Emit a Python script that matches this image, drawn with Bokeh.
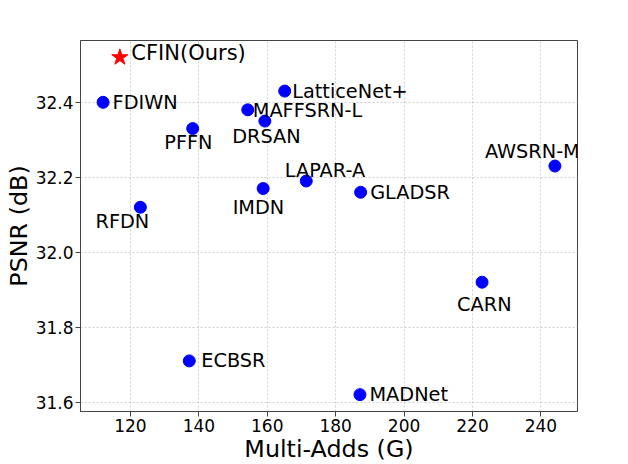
from bokeh.plotting import figure
from bokeh.models import ColumnDataSource, Range1d, FixedTicker, PrintfTickFormatter
from bokeh.core.properties import value, field
from bokeh.embed import file_html
from bokeh.resources import INLINE

# ---- data ----
names = ["CFIN(Ours)", "FDIWN", "PFFN", "MAFFSRN-L", "DRSAN", "LatticeNet+",
         "LAPAR-A", "IMDN", "RFDN", "GLADSR", "AWSRN-M", "CARN", "ECBSR", "MADNet"]
multi_adds = [116.9, 112.0, 138.2, 154.3, 159.3, 165.1,
              171.4, 158.8, 122.9, 187.3, 244.1, 222.8, 137.2, 187.1]
psnr = [32.52, 32.40, 32.33, 32.38, 32.35, 32.43,
        32.19, 32.17, 32.12, 32.16, 32.23, 31.92, 31.71, 31.62]
x_ticks = [120, 140, 160, 180, 200, 220, 240]
y_ticks = [31.6, 31.8, 32.0, 32.2, 32.4]
ours = "CFIN(Ours)"

# label placement: (align, dx px, dy px; dy positive = down)
label_layout = {
    "CFIN(Ours)": ("left", 11.5, -4),
    "FDIWN": ("left", 9.5, 0),
    "PFFN": ("center", -4.3, 14),
    "MAFFSRN-L": ("left", 5, 1),
    "DRSAN": ("center", 1.5, 15),
    "LatticeNet+": ("left", 7.5, 0),
    "LAPAR-A": ("center", 18.7, -11),
    "IMDN": ("center", -4.7, 19),
    "RFDN": ("center", -18, 14),
    "GLADSR": ("left", 9.5, 0),
    "AWSRN-M": ("center", -22.6, -15),
    "CARN": ("center", 2.3, 22.5),
    "ECBSR": ("left", 12, 0),
    "MADNet": ("left", 9.5, 0),
}

FONT = "DejaVu Sans"

def padded(vals, frac=0.05):
    lo, hi = min(vals), max(vals)
    m = (hi - lo) * frac
    return lo - m, hi + m

x0, x1 = padded(multi_adds)
y0, y1 = padded(psnr)

p = figure(frame_width=497, frame_height=371, output_backend="svg", toolbar_location=None,
           x_range=Range1d(x0, x1), y_range=Range1d(y0, y1),
           min_border_left=80, min_border_top=40,
           min_border_right=51, min_border_bottom=53)
p.background_fill_color = "white"
p.border_fill_color = "white"
p.outline_line_color = "#444444"
p.outline_line_width = 1

for ax in (p.xaxis[0], p.yaxis[0]):
    ax.axis_line_color = "#444444"
    ax.major_tick_line_color = "#444444"
    ax.major_tick_out = 5
    ax.major_tick_in = 0
    ax.minor_tick_out = 0
    ax.minor_tick_in = 0
    ax.major_label_text_font = FONT
    ax.major_label_text_font_size = "17px"
    ax.major_label_text_color = "black"
    ax.axis_label_text_font = FONT
    ax.axis_label_text_font_size = "23.8px"
    ax.axis_label_text_font_style = "normal"
    ax.axis_label_text_color = "black"

p.xaxis.ticker = FixedTicker(ticks=x_ticks)
p.yaxis.ticker = FixedTicker(ticks=y_ticks)
p.yaxis.formatter = PrintfTickFormatter(format="%.1f")
p.xaxis.axis_label = "Multi-Adds (G)"
p.yaxis.axis_label = "PSNR (dB)"
p.xaxis.major_label_standoff = 2
p.xaxis.axis_label_standoff = 0
p.yaxis.major_label_standoff = 2
p.yaxis.axis_label_standoff = 0

for g in (p.xgrid[0], p.ygrid[0]):
    g.grid_line_color = "#c4c4c4"
    g.grid_line_dash = "2 2"
    g.grid_line_width = 0.8

others = [i for i, n in enumerate(names) if n != ours]
oi = names.index(ours)

src_o = ColumnDataSource(dict(x=[multi_adds[i] for i in others], y=[psnr[i] for i in others]))
p.scatter("x", "y", source=src_o, marker="circle", size=12,
          fill_color="#0000ff", line_color="#0000ff")
src_s = ColumnDataSource(dict(x=[multi_adds[oi]], y=[psnr[oi]]))
p.scatter("x", "y", source=src_s, marker="star", size=17,
          fill_color="#ff0000", line_color="#ff0000")

def label_source(idx):
    lab = dict(x=[], y=[], text=[], dx=[], dy=[], align=[])
    for i in idx:
        n = names[i]
        a, dx, dy = label_layout[n]
        lab["x"].append(multi_adds[i]); lab["y"].append(psnr[i]); lab["text"].append(n)
        lab["dx"].append(dx); lab["dy"].append(dy); lab["align"].append(a)
    return ColumnDataSource(lab)

for idx, fs in ((others, "19.3px"), ([oi], "21px")):
    p.text(x="x", y="y", text="text", source=label_source(idx),
           x_offset="dx", y_offset="dy", text_align=field("align"),
           text_baseline="middle", text_font=value(FONT),
           text_font_size=fs, text_color="black")

open("out.html", "w").write(file_html(p, INLINE))
